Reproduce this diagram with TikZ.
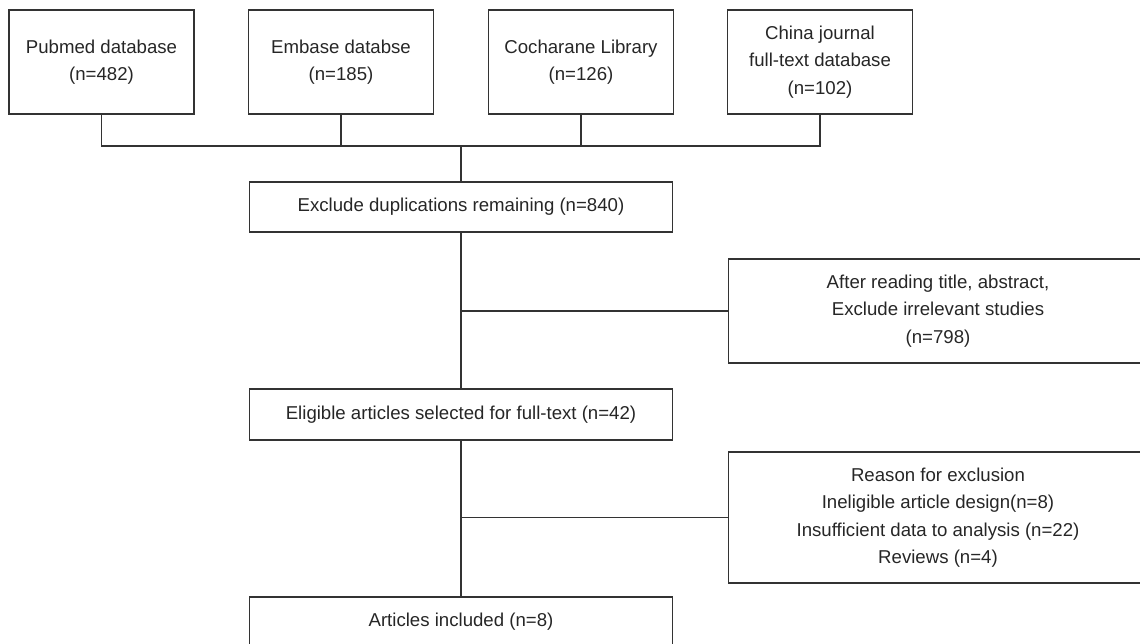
\documentclass[tikz,border=0pt]{standalone}
\usepackage{fontspec}
\setmainfont{Liberation Sans}
\usepackage{tikz}

\tikzstyle{dbase} = [rectangle, draw=black!80, line width=.6pt, text=black!85,
    align=center, minimum width=3.7cm, minimum height=2.08cm, inner sep=0pt]
\tikzstyle{stage} = [rectangle, draw=black!80, line width=.6pt, text=black!85,
    align=center, minimum width=8.48cm, minimum height=1cm, inner sep=0pt]
\tikzstyle{drop} = [rectangle, draw=black!80, line width=.6pt, text=black!85,
    align=center, minimum width=8.4cm, minimum height=2.08cm, inner sep=0pt]
\tikzstyle{link} = [draw=black!80, line width=.6pt]

\begin{document}
\begin{tikzpicture}[x=0.02cm, y=-0.02cm,
    every node/.style={font=\fontsize{10.6}{15.6}\selectfont}]
	\useasboundingbox (0,0) rectangle (1140,643);
	\clip (0,0) rectangle (1140,643);
	%
	\node [dbase] (pub) at (101.5,62) {Pubmed database\\(n=482)};
	\node [dbase] (emb) at (341,62) {Embase databse\\(n=185)};
	\node [dbase] (coc) at (581,62) {Cocharane Library\\(n=126)};
	\node [dbase] (cnk) at (820,62) {China journal\\full-text database\\(n=102)};
	\coordinate (bus) at (461,146);
	%
	\node [stage] (dup) at (461,207) {Exclude duplications remaining (n=840)};
	\node [drop] (irr) at (938,311) {After reading title, abstract,\\Exclude irrelevant studies\\(n=798)};
	\node [stage, minimum height=1.02cm] (elig) at (461,414.5) {Eligible articles selected for full-text (n=42)};
	\node [drop, minimum height=2.62cm] (why) at (938,517.5) {Reason for exclusion\\Ineligible article design(n=8)\\Insufficient data to analysis (n=22)\\Reviews (n=4)};
	\node [stage] (incl) at (461,622) {Articles included (n=8)};
	%
	\draw [link] (pub.south) |- (bus) -| (cnk.south);
	\draw [link] (emb.south) -- (emb.south |- bus);
	\draw [link] (coc.south) -- (coc.south |- bus);
	\draw [link] (bus) -- (dup.north);
	\draw [link] (dup.south) -- (elig.north);
	\draw [link] (elig.south) -- (incl.north);
	\draw [link] (dup.south |- irr.west) -- (irr.west);
	\draw [link] (elig.south |- why.west) -- (why.west);
\end{tikzpicture}
\end{document}
